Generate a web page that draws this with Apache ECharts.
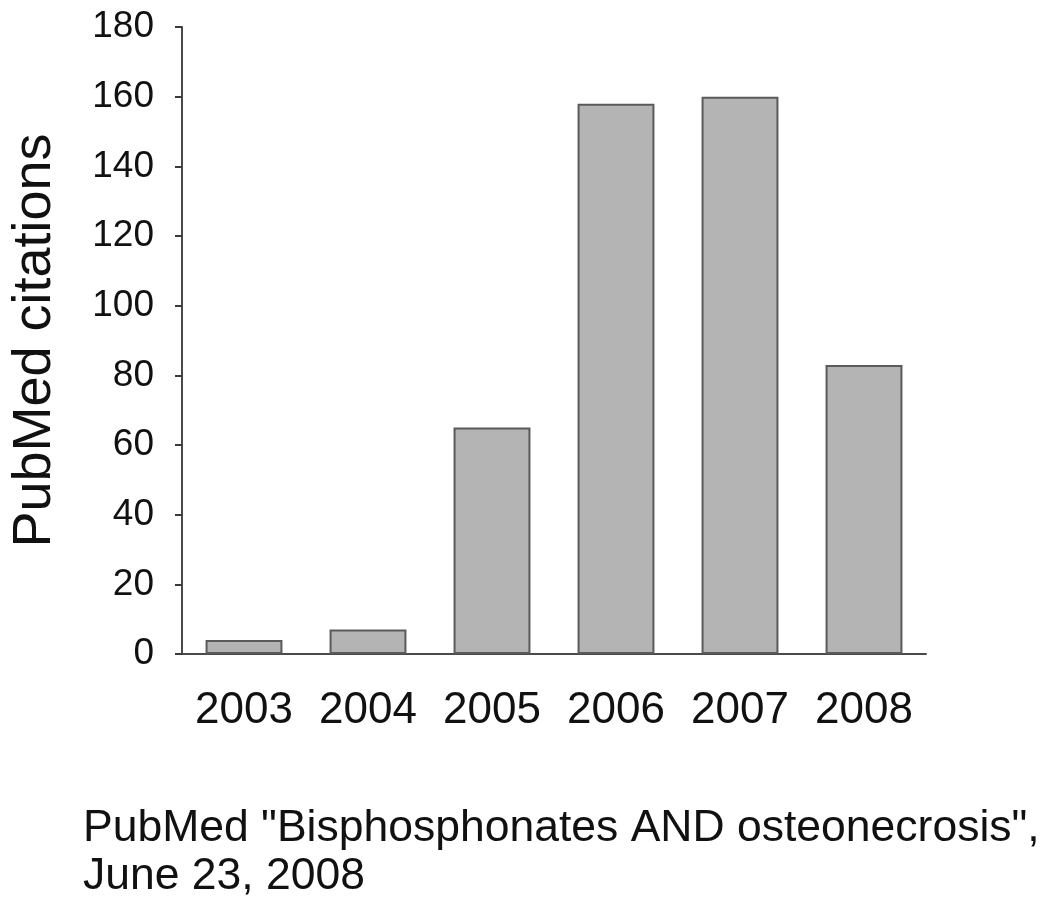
<!DOCTYPE html>
<html>
<head>
<meta charset="utf-8">
<script src="https://cdn.jsdelivr.net/npm/echarts@6/dist/echarts.min.js"></script>
<style>
  html, body { margin: 0; padding: 0; background: #ffffff; }
  #chart { width: 1050px; height: 908px; }
</style>
</head>
<body>
<div id="chart"></div>
<script>
var years = ['2003', '2004', '2005', '2006', '2007', '2008'];
var citations = [4, 7, 65, 158, 160, 83];
var yTitle = 'PubMed citations';
var footerLines = ['PubMed "Bisphosphonates AND osteonecrosis",', 'June 23, 2008'];

var FONT = '"Liberation Sans", Arial, sans-serif';
var chart = echarts.init(document.getElementById('chart'), null, { renderer: 'canvas' });
chart.setOption({
  backgroundColor: '#ffffff',
  animation: false,
  grid: { left: 179, right: 124, top: 27, bottom: 254, containLabel: false },
  xAxis: {
    type: 'category',
    data: years,
    axisLine: { lineStyle: { color: '#4a4a4a', width: 2 } },
    axisTick: { alignWithLabel: true, interval: 0, length: 8, lineStyle: { color: '#3a3a3a', width: 3 } },
    axisLabel: { interval: 0, color: '#111111', fontFamily: FONT, fontSize: 44, margin: 35 }
  },
  yAxis: {
    type: 'value',
    min: 0, max: 180, interval: 20,
    name: yTitle,
    nameLocation: 'middle',
    nameGap: 120,
    nameTextStyle: { color: '#111111', fontFamily: FONT, fontSize: 54 },
    axisLine: { show: true, lineStyle: { color: '#4a4a4a', width: 2 } },
    axisTick: { show: true, length: 7, lineStyle: { color: '#3a3a3a', width: 2 } },
    splitLine: { show: false },
    axisLabel: { color: '#111111', fontFamily: FONT, fontSize: 37, margin: 28 }
  },
  series: [{
    type: 'bar',
    data: citations,
    barWidth: '62%',
    itemStyle: { color: '#b4b4b4', borderColor: '#5a5a5a', borderWidth: 2 }
  }],
  graphic: [{
    type: 'text',
    left: 83,
    top: 805,
    style: {
      text: footerLines.join('\n'),
      fill: '#111111',
      font: '44.5px "Liberation Sans", Arial, sans-serif',
      lineHeight: 48
    }
  }]
});
</script>
</body>
</html>
